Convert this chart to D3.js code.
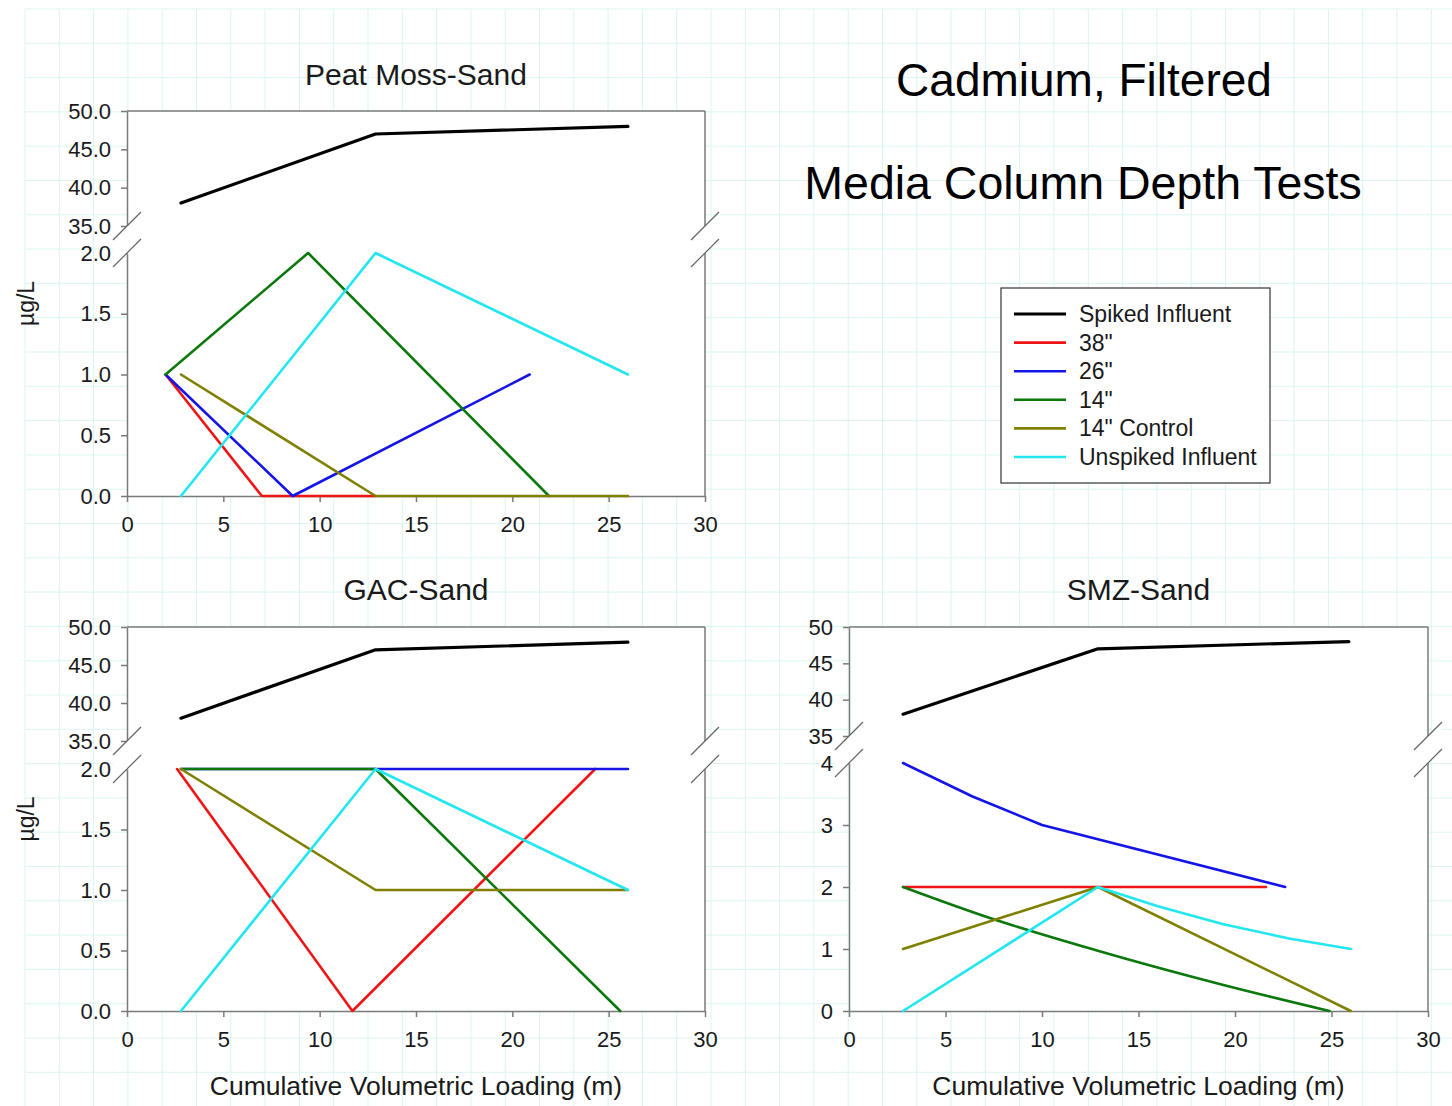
<!DOCTYPE html>
<html><head><meta charset="utf-8">
<script src="https://cdn.jsdelivr.net/npm/d3@7"></script>
<style>
html,body{margin:0;padding:0;background:#fff;}
svg{display:block;font-family:"Liberation Sans",Arial,sans-serif;}
</style></head><body>
<svg id="chart" width="1452" height="1106"></svg>
<script>
// ---------- data ----------
const seriesNames = ['Spiked Influent', '38"', '26"', '14"', '14" Control', 'Unspiked Influent'];
const seriesColors = ['#000000', '#f01414', '#1414e6', '#0b780b', '#808000', '#22e6f0'];
const xTicks = [0, 5, 10, 15, 20, 25, 30];
const upperTicks = [35, 40, 45, 50];
const lowerTicksHalf = [0, 0.5, 1, 1.5, 2];
const lowerTicksUnit = [0, 1, 2, 3, 4];
const panelTitles = ['Peat Moss-Sand', 'GAC-Sand', 'SMZ-Sand'];
const mainTitle = ['Cadmium, Filtered', 'Media Column Depth Tests'];
const yLabel = 'µg/L';
const xLabel = 'Cumulative Volumetric Loading (m)';

// Peat Moss-Sand
const peatSpiked   = [[2.8, 38], [12.9, 47], [26, 48]];
const peat38       = [[2, 1], [7, 0], [12.9, 0]];
const peat26       = [[2, 1], [8.6, 0], [20.9, 1]];
const peat14       = [[2, 1], [9.4, 2], [21.9, 0]];
const peat14c      = [[2.8, 1], [12.9, 0], [26, 0]];
const peatUnspiked = [[2.8, 0], [12.9, 2], [26, 1]];

// GAC-Sand
const gacSpiked   = [[2.8, 38], [12.9, 47], [26, 48]];
const gac38       = [[2.6, 2], [11.7, 0], [24.3, 2]];
const gac26       = [[2.8, 2], [12.9, 2], [26, 2]];
const gac14       = [[2.8, 2], [12.9, 2], [25.6, 0]];
const gac14c      = [[2.8, 2], [12.9, 1], [26, 1]];
const gacUnspiked = [[2.8, 0], [12.9, 2], [26, 1]];

// SMZ-Sand
const smzSpiked   = [[2.8, 38], [12.9, 47], [25.9, 48]];
const smz38       = [[2.8, 2], [21.6, 2]];
const smz26       = [[2.8, 4], [6.4, 3.46], [10, 3], [22.6, 2]];
const smz14       = [[2.8, 2], [7.3, 1.5], [12.8, 0.98], [19.4, 0.42], [24.9, 0]];
const smz14c      = [[2.8, 1], [12.9, 2], [26, 0]];
const smzUnspiked = [[2.8, 0], [12.9, 2], [16, 1.69], [19.4, 1.4], [22.8, 1.17], [26, 1]];

// ---------- layout ----------
const panels = [
  {title: panelTitles[0], left: 127, right: 705, top: 111, breakTop: 226, breakLow: 253, bottom: 496,
   lowerTicks: lowerTicksHalf, lowerMax: 2, fmt: '.1f', titleY: 85, ylab: true, xlab: false, smooth: false,
   series: [peatSpiked, peat38, peat26, peat14, peat14c, peatUnspiked]},
  {title: panelTitles[1], left: 127, right: 705, top: 627, breakTop: 741, breakLow: 769, bottom: 1011,
   lowerTicks: lowerTicksHalf, lowerMax: 2, fmt: '.1f', titleY: 600, ylab: true, xlab: true, smooth: false,
   series: [gacSpiked, gac38, gac26, gac14, gac14c, gacUnspiked]},
  {title: panelTitles[2], left: 849, right: 1428, top: 627, breakTop: 736, breakLow: 763, bottom: 1011,
   lowerTicks: lowerTicksUnit, lowerMax: 4, fmt: 'd', titleY: 600, ylab: false, xlab: true, smooth: true,
   series: [smzSpiked, smz38, smz26, smz14, smz14c, smzUnspiked]}
];

const svg = d3.select('#chart');
const W = 1452, H = 1106;
const axisColor = '#7a7a7a';
const textColor = '#1a1a1a';

// graph paper background
const grid = svg.append('g');
const gStep = 34.3;
for (let x = 25; x <= W; x += gStep) {
  grid.append('line').attr('x1', x).attr('x2', x).attr('y1', 9).attr('y2', H)
    .attr('stroke', '#dbf5f1').attr('stroke-width', 1);
}
for (let y = 9; y <= H; y += gStep) {
  grid.append('line').attr('x1', 25).attr('x2', W).attr('y1', y).attr('y2', y)
    .attr('stroke', '#dbf5f1').attr('stroke-width', 1);
}

panels.forEach(p => {
  const g = svg.append('g');
  const x = d3.scaleLinear().domain([0, 30]).range([p.left, p.right]);
  const yUp = d3.scaleLinear().domain([35, 50]).range([p.breakTop, p.top]);
  const yLow = d3.scaleLinear().domain([0, p.lowerMax]).range([p.bottom, p.breakLow]);

  // plot area
  g.append('rect').attr('x', p.left).attr('y', p.top)
    .attr('width', p.right - p.left).attr('height', p.bottom - p.top).attr('fill', '#fff');

  // top border and right axis
  g.append('line').attr('x1', p.left).attr('x2', p.right).attr('y1', p.top).attr('y2', p.top)
    .attr('stroke', axisColor).attr('stroke-width', 1.5);
  g.append('line').attr('x1', p.right).attr('x2', p.right).attr('y1', p.top).attr('y2', p.breakTop)
    .attr('stroke', axisColor).attr('stroke-width', 1.5);
  g.append('line').attr('x1', p.right).attr('x2', p.right).attr('y1', p.breakLow).attr('y2', p.bottom)
    .attr('stroke', axisColor).attr('stroke-width', 1.5);

  const styleAxis = sel => {
    sel.selectAll('.domain').attr('stroke', axisColor).attr('stroke-width', 1.5);
    sel.selectAll('.tick line').attr('stroke', axisColor).attr('stroke-width', 1.5);
    sel.selectAll('.tick text').attr('fill', textColor).style('font-size', '22px')
      .style('font-family', '"Liberation Sans",Arial,sans-serif');
  };

  const upAxis = g.append('g').attr('transform', `translate(${p.left},0)`)
    .call(d3.axisLeft(yUp).tickValues(upperTicks).tickFormat(d3.format(p.fmt))
      .tickSize(6).tickSizeOuter(0).tickPadding(10));
  styleAxis(upAxis);
  const lowAxis = g.append('g').attr('transform', `translate(${p.left},0)`)
    .call(d3.axisLeft(yLow).tickValues(p.lowerTicks).tickFormat(d3.format(p.fmt))
      .tickSize(6).tickSizeOuter(0).tickPadding(10));
  styleAxis(lowAxis);
  const xAxis = g.append('g').attr('transform', `translate(0,${p.bottom})`)
    .call(d3.axisBottom(x).tickValues(xTicks).tickFormat(d3.format('d'))
      .tickSize(6).tickSizeOuter(0).tickPadding(14));
  styleAxis(xAxis);

  // break marks
  [p.left, p.right].forEach(bx => {
    const d = 14;
    g.append('polygon')
      .attr('points', [[bx - d, p.breakTop + d], [bx + d, p.breakTop - d], [bx + d, p.breakLow - d], [bx - d, p.breakLow + d]].map(q => q.join(',')).join(' '))
      .attr('fill', '#fff');
    [p.breakTop, p.breakLow].forEach(by => {
      g.append('line').attr('x1', bx - d).attr('y1', by + d).attr('x2', bx + d).attr('y2', by - d)
        .attr('stroke', '#666').attr('stroke-width', 1.2);
    });
  });

  // data lines
  p.series.forEach((s, i) => {
    const ys = i === 0 ? yUp : yLow;
    const mono = p.smooth && i === 3;
    const line = d3.line().x(d => x(d[0])).y(d => ys(d[1]))
      .curve(mono ? d3.curveMonotoneX : d3.curveLinear);
    g.append('path').datum(s).attr('d', line).attr('fill', 'none')
      .attr('stroke', seriesColors[i]).attr('stroke-width', i === 0 ? 3.2 : 2.6)
      .attr('stroke-linejoin', 'round').attr('stroke-linecap', 'round');
  });

  // titles
  g.append('text').attr('x', (p.left + p.right) / 2).attr('y', p.titleY)
    .attr('text-anchor', 'middle').attr('fill', textColor).style('font-size', '30px').text(p.title);
  if (p.ylab) {
    g.append('text').attr('transform', `translate(34,${(p.top + p.bottom) / 2}) rotate(-90)`)
      .attr('text-anchor', 'middle').attr('fill', textColor).style('font-size', '23px').text(yLabel);
  }
  if (p.xlab) {
    g.append('text').attr('x', (p.left + p.right) / 2).attr('y', 1095)
      .attr('text-anchor', 'middle').attr('fill', textColor).style('font-size', '26.5px').text(xLabel);
  }
});

// main title
svg.append('text').attr('x', 1084).attr('y', 96).attr('text-anchor', 'middle')
  .attr('fill', '#000').style('font-size', '46px').text(mainTitle[0]);
svg.append('text').attr('x', 1083).attr('y', 199).attr('text-anchor', 'middle')
  .attr('fill', '#000').style('font-size', '46.5px').text(mainTitle[1]);

// legend
const lg = svg.append('g');
lg.append('rect').attr('x', 1001).attr('y', 288).attr('width', 269).attr('height', 195)
  .attr('fill', '#fff').attr('stroke', '#333').attr('stroke-width', 1.2);
const rowY = d3.scalePoint().domain(seriesNames).range([314, 457]);
seriesNames.forEach((n, i) => {
  const y = rowY(n);
  lg.append('line').attr('x1', 1014).attr('x2', 1066).attr('y1', y).attr('y2', y)
    .attr('stroke', seriesColors[i]).attr('stroke-width', i === 0 ? 3 : 2.6);
  lg.append('text').attr('x', 1079).attr('y', y).attr('dy', '0.35em')
    .attr('fill', textColor).style('font-size', '23px').text(n);
});
</script>
</body></html>
